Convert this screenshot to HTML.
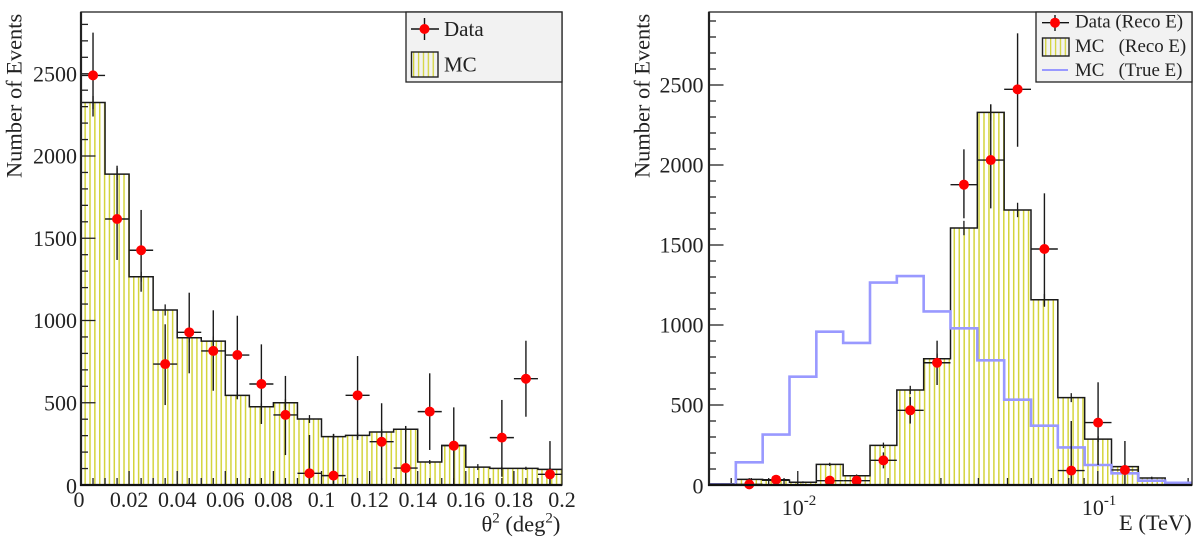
<!DOCTYPE html>
<html lang="en">
<head>
<meta charset="utf-8">
<title>Number of Events: theta squared and energy distributions</title>
<style>
html,body{margin:0;padding:0;background:#fff;width:1200px;height:540px;overflow:hidden}
svg{display:block;filter:blur(0.3px)}
text{font-family:"Liberation Serif",serif;fill:#222;white-space:pre}
</style>
</head>
<body>
<svg id="figure" xmlns="http://www.w3.org/2000/svg" width="1200" height="540" viewBox="0 0 1200 540">
<defs>
<pattern id="hatchL" patternUnits="userSpaceOnUse" width="4.86" height="10" x="84.4" y="0"><rect x="0" y="0" width="1.5" height="10" fill="#d4d43c"/></pattern>
<pattern id="hatchR" patternUnits="userSpaceOnUse" width="4.95" height="10" x="711" y="0"><rect x="0" y="0" width="1.5" height="10" fill="#d4d43c"/></pattern>
<pattern id="hatchLeg" patternUnits="userSpaceOnUse" width="4.9" height="10" x="413" y="0"><rect x="0" y="0" width="1.3" height="10" fill="#d4d43c"/></pattern>
</defs>
<g id="left-panel"></g>
<g id="right-panel"></g>
<g>
  <rect x="406" y="12" width="156" height="70" fill="#f2f2f2" stroke="#222" stroke-width="1.3"/>
  <g>
    <line x1="411" y1="29" x2="439" y2="29" stroke="#111" stroke-width="1.4"/>
    <line x1="424.5" y1="18" x2="424.5" y2="40" stroke="#111" stroke-width="1.4"/>
    <circle cx="424.5" cy="29" r="5" fill="#f00"/>
    <text x="444" y="36" font-size="21">Data</text>
  </g>
  <g>
    <rect x="411.5" y="52" width="26.5" height="25" fill="url(#hatchLeg)" stroke="#222" stroke-width="1.4"/>
    <text x="444" y="71.5" font-size="21">MC</text>
  </g>
</g>
<g>
  <rect x="1036" y="12" width="156" height="70" fill="#f2f2f2" stroke="#222" stroke-width="1.3"/>
  <g>
    <line x1="1042" y1="22.7" x2="1069" y2="22.7" stroke="#111" stroke-width="1.4"/>
    <line x1="1055" y1="15" x2="1055" y2="31" stroke="#111" stroke-width="1.4"/>
    <circle cx="1055" cy="22.7" r="5" fill="#f00"/>
    <text x="1075" y="27.5" font-size="18.9">Data (Reco E)</text>
  </g>
  <g>
    <rect x="1042.5" y="38" width="26.5" height="18" fill="url(#hatchLeg)" stroke="#222" stroke-width="1.4"/>
    <text x="1075" y="52" font-size="18.9">MC   (Reco E)</text>
  </g>
  <g>
    <line x1="1042" y1="70" x2="1068" y2="70" stroke="#9999ff" stroke-width="2"/>
    <text x="1075" y="76" font-size="18.9">MC   (True E)</text>
  </g>
</g>
</svg>
<script>
// ---- Left panel data (theta^2 in deg^2, 0.01 wide bins) ----
const thetaRange = [0, 0.2];
const thetaTicks = [0, 0.02, 0.04, 0.06, 0.08, 0.1, 0.12, 0.14, 0.16, 0.18, 0.2];
const thetaTickLabels = ['0', '0.02', '0.04', '0.06', '0.08', '0.1', '0.12', '0.14', '0.16', '0.18', '0.2'];
const thetaMC = [2325, 1890, 1266, 1064, 895, 875, 545, 476, 500, 401, 294, 302, 322, 339, 140, 241, 109, 101, 101, 95];
const thetaMCErr = [40, 36, 30, 34, 28, 28, 22, 20, 22, 24, 17, 17, 18, 18, 12, 15, 18, 10, 10, 10];
const thetaData = [2490, 1617, 1427, 735, 928, 815, 790, 614, 426, 71, 57, 545, 263, 103, 446, 239, null, 288, 646, 65];
const thetaDataHi = [2750, 1941, 1672, 977, 1169, 1062, 1029, 855, 663, 304, 310, 784, 497, 359, 679, 472, null, 517, 877, 267];
const thetaDataLo = [2240, 1368, 1175, 486, 679, 573, 521, 371, 182, 0, 0, 274, 30, 0, 213, 0, null, 50, 415, 0];

// ---- Right panel data (E in TeV, log bins) ----
const energyRange = [0.00506, 0.206];
const energyBinCount = 18;
const energyMC = [8, 35, 30, 17, 129, 58, 248, 594, 789, 1606, 2329, 1719, 1158, 546, 287, 115, 44, 10];
const energyMCErr = [4, 8, 8, 6, 10, 8, 17, 26, 32, 45, 50, 45, 36, 28, 18, 12, 8, 3];
const energyTrue = [2, 142, 315, 677, 958, 888, 1265, 1306, 1085, 979, 779, 533, 371, 235, 125, 73, 27, 14];
const energyData = [null, 4, 33, null, 27, 27, 154, 467, 764, 1877, 2031, 2473, 1475, 90, 390, 94, null, null];
const energyDataHi = [null, 30, 50, null, 45, 45, 204, 550, 902, 2098, 2379, 2823, 1823, 400, 642, 275, null, null];
const energyDataLo = [null, 0, 16, null, 10, 10, 104, 384, 625, 1667, 1729, 2114, 1114, 0, 125, 0, null, null];
const energyMajorTicks = [0.01, 0.1];
const energyMinorTicks = [0.006, 0.007, 0.008, 0.009, 0.02, 0.03, 0.04, 0.05, 0.06, 0.07, 0.08, 0.09, 0.2];
const energyTickLabels = ['10', '10'];
const energyTickExponents = ['-2', '-1'];

// ---- Shared y ticks ----
const countTicks = [0, 500, 1000, 1500, 2000, 2500];
const countMinorStep = 100;

const NS = 'http://www.w3.org/2000/svg';
function mk(parent, tag, attrs, txt) {
  const el = document.createElementNS(NS, tag);
  for (const k in attrs) el.setAttribute(k, attrs[k]);
  if (txt !== undefined) el.textContent = txt;
  parent.appendChild(el);
  return el;
}

function drawPanel(cfg) {
  const root = document.getElementById(cfg.id);
  const bottom = 485, top = 12, L = cfg.left, R = cfg.right;
  const xPos = cfg.x;
  const y = v => bottom - v * cfg.yScale;
  const n = cfg.mc.length;
  const clampY = v => Math.max(top, Math.min(bottom, y(v)));

  // histogram outline path
  let d = 'M' + cfg.edge(0) + ' ' + bottom;
  for (let i = 0; i < n; i++) {
    d += 'L' + cfg.edge(i) + ' ' + y(cfg.mc[i]) + 'L' + cfg.edge(i + 1) + ' ' + y(cfg.mc[i]);
  }
  const dFill = d + 'L' + cfg.edge(n) + ' ' + bottom + 'Z';

  const fillEl = mk(root, 'path', {d: dFill, fill: 'url(#' + cfg.hatch + ')', stroke: 'none'});
  
  

  // ticks
  const ticks = mk(root, 'g', {stroke: '#222', 'stroke-width': 1.3});
  
  
  const ymax = (bottom - top) / cfg.yScale;
  for (let v = countMinorStep; v < ymax; v += countMinorStep) {
    const len = v % 500 === 0 ? 14.5 : 7;
    mk(ticks, 'line', {x1: L, y1: y(v), x2: L + len, y2: y(v)});
  }
  cfg.xMajor.forEach(v => mk(ticks, 'line', {x1: xPos(v), y1: bottom, x2: xPos(v), y2: bottom - 14}));
  cfg.xMinor.forEach(v => mk(ticks, 'line', {x1: xPos(v), y1: bottom, x2: xPos(v), y2: bottom - 7}));

  const lineEl = mk(root, 'path', {d: d, fill: 'none', stroke: '#1a1a1a', 'stroke-width': 1.5});
  
  

  // MC error bars
  const errG = mk(root, 'g', {stroke: '#1a1a1a', 'stroke-width': 1.3});
  
  
  for (let i = 0; i < n; i++) {
    const c = (cfg.edge(i) + cfg.edge(i + 1)) / 2;
    mk(errG, 'line', {x1: c, y1: clampY(cfg.mc[i] + cfg.mcErr[i]), x2: c, y2: clampY(cfg.mc[i] - cfg.mcErr[i])});
  }

  // True E
  if (cfg.trueE) {
    let t = 'M' + cfg.edge(0) + ' ' + y(cfg.trueE[0]);
    for (let i = 0; i < n; i++) {
      t += 'L' + cfg.edge(i) + ' ' + y(cfg.trueE[i]) + 'L' + cfg.edge(i + 1) + ' ' + y(cfg.trueE[i]);
    }
    const trueEl = mk(root, 'path', {d: t, fill: 'none', stroke: '#9999ff', 'stroke-width': 2.6});
    
    
  }

  // Data points
  const dataG = mk(root, 'g', {});
  
  
  for (let i = 0; i < n; i++) {
    if (cfg.data[i] === null) continue;
    const x0 = cfg.edge(i), x1 = cfg.edge(i + 1), c = (x0 + x1) / 2, py = y(cfg.data[i]);
    const g = mk(dataG, 'g', {});
    
    
    mk(g, 'line', {x1: c, y1: clampY(cfg.hi[i]), x2: c, y2: clampY(cfg.lo[i]), stroke: '#1a1a1a', 'stroke-width': 1.4});
    mk(g, 'line', {x1: x0, y1: py, x2: x1, y2: py, stroke: '#1a1a1a', 'stroke-width': 1.4});
    mk(g, 'circle', {cx: c, cy: py, r: 5, fill: '#f00'});
  }

  // Frame
  const frame = mk(root, 'g', {fill: 'none'});
  
  
  mk(frame, 'rect', {x: L, y: top, width: R - L, height: bottom - top, stroke: '#222', 'stroke-width': 1.3});
  mk(frame, 'line', {x1: L, y1: top, x2: L, y2: bottom + 1, stroke: '#222', 'stroke-width': 2.2});
  mk(frame, 'line', {x1: L - 1, y1: bottom, x2: R, y2: bottom, stroke: '#111', 'stroke-width': 2.2});

  // y labels
  const yL = mk(root, 'g', {'font-size': 22, 'text-anchor': 'end'});
  
  
  countTicks.forEach(v => {
    mk(yL, 'text', {x: L - cfg.yLabelGap, y: v === 0 ? y(v) + 8.5 : y(v) + 7.5}, String(v));
  });

  const title = mk(root, 'text', {
    transform: 'translate(' + cfg.yTitleX + ',178) rotate(-90)', 'font-size': 22.4
  }, 'Number of Events');
  
  
}

// Left panel
const thetaX = v => 81 + (v - thetaRange[0]) / (thetaRange[1] - thetaRange[0]) * 481;
const thetaBinW = (thetaRange[1] - thetaRange[0]) / thetaMC.length;
const thetaMinor = [];
for (let k = 1; k < 40; k++) { if (k % 4 !== 0) thetaMinor.push(k * 0.005); }
drawPanel({
  id: 'left-panel', left: 81, right: 562, yScale: 0.1645, hatch: 'hatchL',
  x: thetaX, edge: i => thetaX(thetaRange[0] + i * thetaBinW),
  mc: thetaMC, mcErr: thetaMCErr, data: thetaData, hi: thetaDataHi, lo: thetaDataLo,
  xMajor: thetaTicks.slice(1, -1), xMinor: thetaMinor, yLabelGap: 4, yTitleX: 21.5
});

// Right panel
const energyX = v => 709 + (Math.log10(v) - Math.log10(energyRange[0])) / (Math.log10(energyRange[1]) - Math.log10(energyRange[0])) * 483;
const energyEdge = i => {
  const a = Math.log10(energyRange[0]), b = Math.log10(energyRange[1]);
  return energyX(Math.pow(10, a + (b - a) * i / energyBinCount));
};
drawPanel({
  id: 'right-panel', left: 709, right: 1192, yScale: 0.16, hatch: 'hatchR',
  x: energyX, edge: energyEdge,
  mc: energyMC, mcErr: energyMCErr, trueE: energyTrue, data: energyData, hi: energyDataHi, lo: energyDataLo,
  xMajor: energyMajorTicks, xMinor: energyMinorTicks, yLabelGap: 5.5, yTitleX: 649.3
});

// X tick labels: theta
const leftRoot = document.getElementById('left-panel');
const thetaLabels = mk(leftRoot, 'g', {'font-size': 22, 'text-anchor': 'middle'});


thetaTicks.forEach((v, i) => {
  mk(thetaLabels, 'text', {x: thetaX(v) - (i === 0 ? 2 : 0), y: 507}, thetaTickLabels[i]);
});
const thetaTitle = mk(leftRoot, 'text', {x: 481.5, y: 531.5, 'font-size': 22.5});


mk(thetaTitle, 'tspan', {}, 'θ');
mk(thetaTitle, 'tspan', {dy: -9, 'font-size': 15}, '2');
mk(thetaTitle, 'tspan', {dy: 9}, ' (deg');
mk(thetaTitle, 'tspan', {dy: -9, 'font-size': 15}, '2');
mk(thetaTitle, 'tspan', {dy: 9}, ')');

// X tick labels: energy
const rightRoot = document.getElementById('right-panel');
const energyLabels = mk(rightRoot, 'g', {'font-size': 22});


energyMajorTicks.forEach((v, i) => {
  const t = mk(energyLabels, 'text', {x: energyX(v) - 16, y: 515});
  mk(t, 'tspan', {}, energyTickLabels[i]);
  mk(t, 'tspan', {dy: -10, 'font-size': 15}, energyTickExponents[i]);
});
const energyTitle = mk(rightRoot, 'text', {x: 1119, y: 530, 'font-size': 22.5}, 'E (TeV)');


</script>
</body>
</html>
